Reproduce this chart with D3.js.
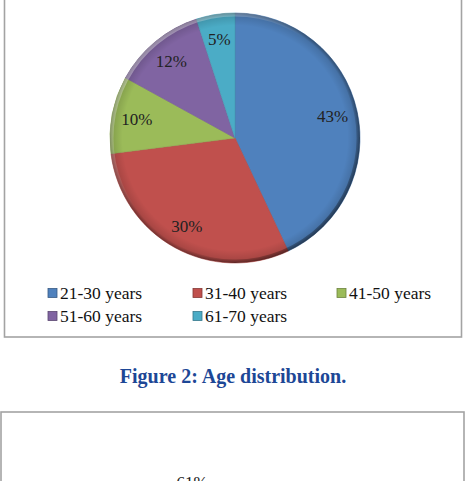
<!DOCTYPE html>
<html>
<head>
<meta charset="utf-8">
<script src="https://cdn.jsdelivr.net/npm/d3@7"></script>
<style>
  html, body { margin: 0; padding: 0; background: #fff; }
  svg { display: block; }
</style>
</head>
<body>
<div id="chart"></div>
<script>
// --- data ---
const categories = ["21-30 years", "31-40 years", "41-50 years", "51-60 years", "61-70 years"];
const values = [43, 30, 10, 12, 5];
const sliceColors = ["#4f81bd", "#c0504d", "#9bbb59", "#8064a2", "#4bacc6"];
const caption = "Figure 2: Age distribution.";
const nextChartLabel = "61%";

const width = 465, height = 481;
const cx = 235, cy = 138, radius = 125;

const svg = d3.select("#chart").append("svg")
  .attr("width", width)
  .attr("height", height)
  .style("font-family", "'Liberation Serif', 'Times New Roman', serif");

const defs = svg.append("defs");

// rim shading, imitates the office bevel
const rim = defs.append("radialGradient").attr("id", "rim")
  .attr("cx", "50%").attr("cy", "50%").attr("r", "50%");
rim.append("stop").attr("offset", "90%").attr("stop-color", "#000").attr("stop-opacity", 0);
rim.append("stop").attr("offset", "97%").attr("stop-color", "#000").attr("stop-opacity", 0.12);
rim.append("stop").attr("offset", "100%").attr("stop-color", "#000").attr("stop-opacity", 0.4);

const light = defs.append("linearGradient").attr("id", "light")
  .attr("x1", "0%").attr("y1", "0%").attr("x2", "100%").attr("y2", "100%");
light.append("stop").attr("offset", "0%").attr("stop-color", "#fff").attr("stop-opacity", 0.55);
light.append("stop").attr("offset", "45%").attr("stop-color", "#fff").attr("stop-opacity", 0);
light.append("stop").attr("offset", "60%").attr("stop-color", "#000").attr("stop-opacity", 0);
light.append("stop").attr("offset", "100%").attr("stop-color", "#000").attr("stop-opacity", 0.45);

// --- frame of chart 1 ---
svg.append("rect")
  .attr("x", 4.5).attr("y", -10)
  .attr("width", 457).attr("height", 347)
  .attr("fill", "none").attr("stroke", "#a3a3a3").attr("stroke-width", 1.6);

// --- pie ---
const color = d3.scaleOrdinal().domain(categories).range(sliceColors);
const pie = d3.pie().sort(null).value((d, i) => values[i]);
const arcs = pie(categories);
const arc = d3.arc().innerRadius(0).outerRadius(radius);
const labelArc = d3.arc().innerRadius(radius * 0.8).outerRadius(radius * 0.8);

const g = svg.append("g").attr("transform", `translate(${cx},${cy})`);

g.selectAll("path.slice")
  .data(arcs)
  .join("path")
  .attr("class", "slice")
  .attr("d", arc)
  .attr("fill", d => color(d.data))
  .attr("stroke", d => d3.color(color(d.data)).darker(0.3))
  .attr("stroke-width", 0.6);

// bevel overlays
g.append("circle").attr("r", radius).attr("fill", "url(#rim)");
g.append("path")
  .attr("d", d3.arc().innerRadius(radius - 3.5).outerRadius(radius)({startAngle: 0, endAngle: 2 * Math.PI}))
  .attr("fill", "url(#light)");

g.selectAll("text.lbl")
  .data(arcs)
  .join("text")
  .attr("class", "lbl")
  .attr("transform", d => `translate(${labelArc.centroid(d)})`)
  .attr("text-anchor", "middle")
  .attr("dy", "0.35em")
  .attr("font-size", 17)
  .attr("fill", "#222")
  .text((d, i) => values[i] + "%");

// --- legend ---
const legendCols = [48, 193, 337];
const legendRows = [293, 316];
const legend = svg.append("g");
const items = legend.selectAll("g")
  .data(categories)
  .join("g")
  .attr("transform", (d, i) => `translate(${legendCols[i % 3]},${legendRows[Math.floor(i / 3)]})`);

items.append("rect")
  .attr("x", 0).attr("y", -4.5)
  .attr("width", 9).attr("height", 9)
  .attr("fill", d => color(d))
  .attr("stroke", d => d3.color(color(d)).darker(1))
  .attr("stroke-width", 0.8);

items.append("text")
  .attr("x", 12)
  .attr("dy", "0.35em")
  .attr("font-size", 17.5)
  .attr("fill", "#111")
  .text(d => d);

// --- caption ---
svg.append("text")
  .attr("x", 233).attr("y", 383)
  .attr("text-anchor", "middle")
  .attr("font-size", 20)
  .attr("font-weight", "bold")
  .attr("fill", "#1d4796")
  .text(caption);

// --- top of next chart ---
svg.append("rect")
  .attr("x", 1).attr("y", 412)
  .attr("width", 463).attr("height", 100)
  .attr("fill", "none").attr("stroke", "#a3a3a3").attr("stroke-width", 1.6);

svg.append("text")
  .attr("x", 192).attr("y", 488)
  .attr("text-anchor", "middle")
  .attr("font-size", 17)
  .attr("fill", "#222")
  .text(nextChartLabel);
</script>
</body>
</html>
